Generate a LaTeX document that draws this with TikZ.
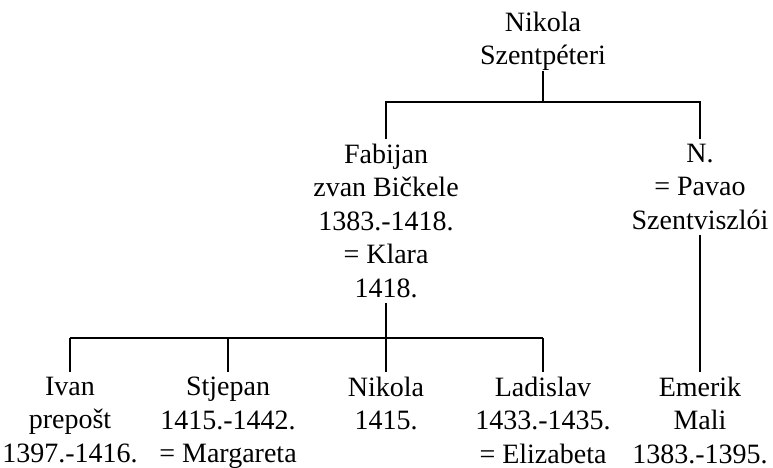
\documentclass[tikz,border=0pt]{standalone}
\usepackage{fontspec}
\setmainfont{Liberation Serif}
\usetikzlibrary{positioning,calc}
\tikzset{
  person/.style={align=center, inner sep=0pt, outer ysep=5pt, anchor=north, font=\fontsize{28}{33.5}\selectfont},
  connect/.style={line width=1.6pt}
}

\begin{document}
\begin{tikzpicture}[x=1pt,y=-1pt]
	  \useasboundingbox (0,0) rectangle (773,468);

	  % Ancestor
	  \node[person, outer ysep=0pt] (root) at (543,12) {Nikola\\Szentpéteri};
	  \coordinate (bar1) at (543,102);

	  % Second generation
	  \node[person] (fabijan) at (386,139) {Fabijan\\zvan Bičkele\\1383.-1418.\\= Klara\\1418.};
	  \node[person] (nn) at (700,139) {N.\\= Pavao\\Szentviszlói};
	  \coordinate (bar2) at (386,338);

	  \draw[connect] (root) -- (bar1);
	  \draw[connect] (fabijan.north) |- (bar1) -| (nn.north);

	  % Third generation
	  \foreach \n/\x/\t in {ivan/70/{Ivan\\prepošt\\1397.-1416.},
	                        stjepan/228/{Stjepan\\1415.-1442.\\= Margareta},
	                        nikola/386/{Nikola\\1415.},
	                        ladislav/543/{Ladislav\\1433.-1435.\\= Elizabeta}} {
		\node[person] (\n) at (\x,372) {\t};
		\draw[connect] (\n.north) -- (\n.north |- bar2);
	  }
	  \node[person] (emerik) at (700,372) {Emerik\\Mali\\1383.-1395.};

	  \draw[connect] (fabijan) -- (bar2);
	  \draw[connect] (ivan.north |- bar2) -- (ladislav.north |- bar2);
	  \draw[connect] (nn) -- (emerik);

	\end{tikzpicture}
\end{document}
